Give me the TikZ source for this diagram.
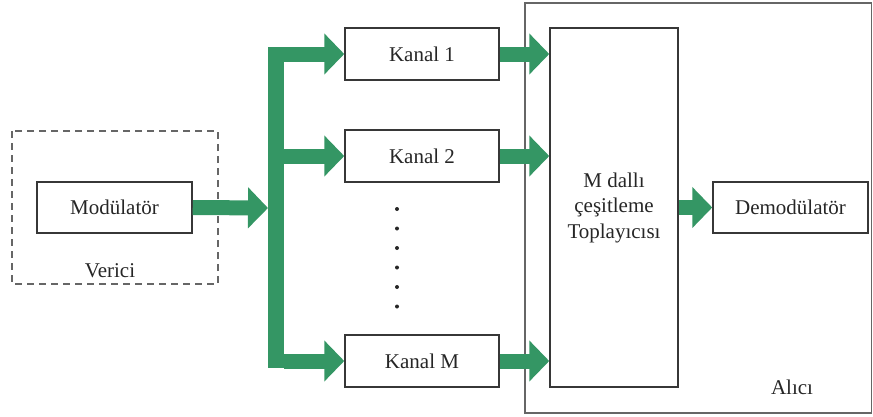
\documentclass[tikz,border=0pt]{standalone}
\usepackage{fontspec}
\setmainfont{Liberation Serif}
\usetikzlibrary{positioning}
\usetikzlibrary{arrows.meta}

\definecolor{flowgreen}{RGB}{52,150,100}
\definecolor{boxgray}{RGB}{55,55,55}

\begin{document}
\begin{tikzpicture}[
                x=1pt, y=-1pt,
                every node/.style={font=\rmfamily\fontsize{21}{25.5}\selectfont, text=black!85},
                blockbox/.style={rectangle, draw=boxgray, line width=1.5pt, inner sep=0pt},
                groupbox/.style={rectangle, draw=black!60, line width=1.7pt},
                flowarrow/.style={draw=flowgreen, line width=15pt, -{Triangle[width=40pt,length=20pt]}},
            ]
            \useasboundingbox (0,0) rectangle (873,416);

            % Groups
            \draw[groupbox, dashed, dash pattern=on 7pt off 5pt] (12,131) rectangle (218,284);
            \draw[groupbox] (525,3) rectangle (871.5,413);
            \node (verici_label) at (110,271) {Verici};
            \node (alici_label)  at (792,387) {Alıcı};

            % Nodes
            \node[blockbox, minimum width=155pt, minimum height=51pt] (modulator) at (114.5,207.5) {Modülatör};

            \node[blockbox, minimum width=154pt, minimum height=52pt] (kanal_1) at (422,54)  {Kanal 1};
            \node[blockbox, minimum width=154pt, minimum height=52pt] (kanal_2) at (422,156) {Kanal 2};
            \node[blockbox, minimum width=154pt, minimum height=52pt] (kanal_M) at (422,361) {Kanal M};

            \node[blockbox, minimum width=128pt, minimum height=359pt, align=center] (combiner) at (614,207.5)
                {M dallı\\çeşitleme\\Toplayıcısı};
            \node[blockbox, minimum width=155pt, minimum height=51pt] (demodulator) at (790.5,207.5) {Demodülatör};

            % Bus
            \coordinate (bus_top) at (268,47);
            \coordinate (bus_bottom) at (284,368);
            \coordinate (bus_in) at (268,208);
            \fill[flowgreen] (bus_top) rectangle (bus_bottom);

            % Dots
            \foreach \dy in {209,228.5,248,267.5,287,306.5}
                \fill[black!85] (397,\dy) circle (2pt);

            % Lines
            \draw[flowarrow] (modulator.east) -- (bus_in);

            \draw[flowarrow] (bus_bottom |- kanal_1.west) -- (kanal_1.west);
            \draw[flowarrow] (bus_bottom |- kanal_2.west) -- (kanal_2.west);
            \draw[flowarrow] (bus_bottom |- kanal_M.west) -- (kanal_M.west);

            \draw[flowarrow] (kanal_1.east) -- (kanal_1.east -| combiner.west);
            \draw[flowarrow] (kanal_2.east) -- (kanal_2.east -| combiner.west);
            \draw[flowarrow] (kanal_M.east) -- (kanal_M.east -| combiner.west);

            \draw[flowarrow] (combiner.east) -- (demodulator.west);
        \end{tikzpicture}
\end{document}
